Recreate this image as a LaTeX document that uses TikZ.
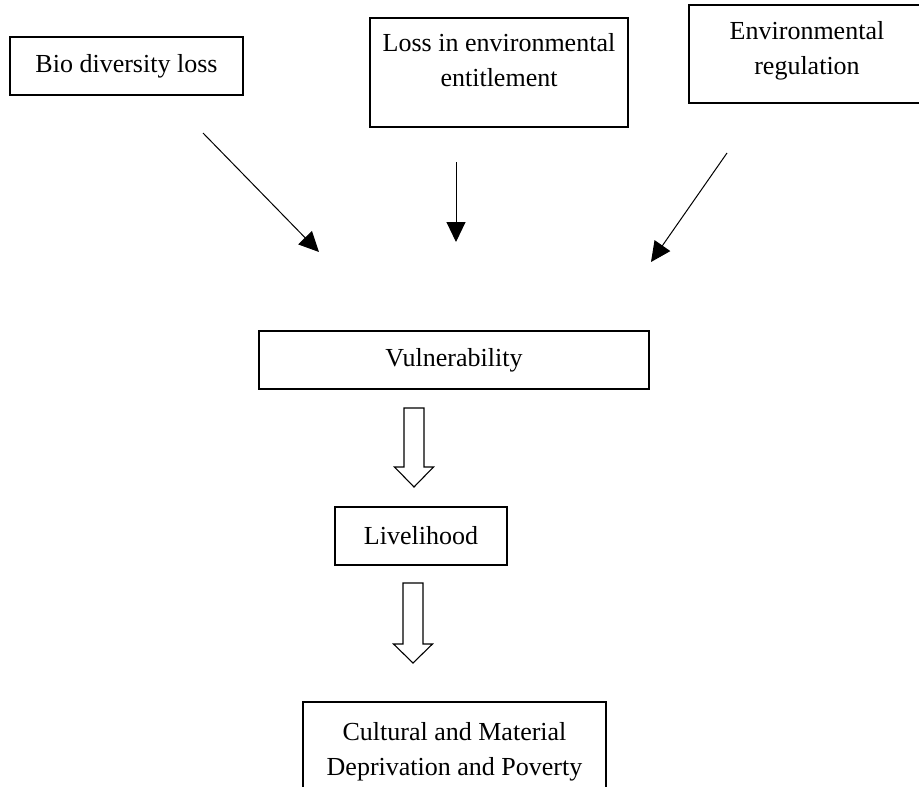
\documentclass[tikz,border=0pt]{standalone}
\usepackage{fontspec}
\setmainfont{Liberation Serif}
\usetikzlibrary{arrows.meta,calc}
\begin{document}
\begin{tikzpicture}[x=1pt,y=-1pt,
  box/.style={draw, line width=1.1pt, inner sep=0pt, rectangle},
  lbl/.style={font=\fontsize{26}{35}\selectfont, align=center, inner sep=0pt},
  thin arrow/.style={line width=1pt, -{Triangle[length=20pt,width=19pt]}},
  hollow/.style={draw, line width=1.1pt, line join=miter}]
\useasboundingbox (0,0) rectangle (919,787);
% top boxes
\node[box, minimum width=233pt, minimum height=58pt] (b1) at (126.5,66) {};
\node[lbl] (t1) at (b1.center) {Bio diversity loss};
\node[box, minimum width=258pt, minimum height=109pt] (b2) at (499,72.5) {};
\node[lbl] (t2) at ($(b2.north)+(0,43)$) {Loss in environmental\\entitlement};
\node[box, minimum width=236pt, minimum height=98pt] (b3) at (807,54) {};
\node[lbl] (t3) at ($(b3.north)+(0,46)$) {Environmental\\regulation};
% thin arrows
\coordinate (a1s) at (203,133); \coordinate (a1e) at (319,252);
\coordinate (a2s) at (456,162); \coordinate (a2e) at (456,242);
\coordinate (a3s) at (727,153); \coordinate (a3e) at (651,262);
\draw[thin arrow] (a1s) -- (a1e);
\draw[thin arrow] (a2s) -- (a2e);
\draw[thin arrow] (a3s) -- (a3e);
% vulnerability
\node[box, minimum width=390pt, minimum height=58pt] (b4) at (454,360) {};
\node[lbl] (t4) at (b4.center) {Vulnerability};
% hollow arrow 1
\coordinate (h1) at (414,408);
\draw[hollow] (h1) ++(-10,0) -- ++(0,59) -- ++(-9.5,0) -- ++(19.5,20) -- ++(19.5,-20) -- ++(-9.5,0) -- ++(0,-59) -- cycle;
% livelihood
\node[box, minimum width=172pt, minimum height=58pt] (b5) at (421,536) {};
\node[lbl] (t5) at (b5.center) {Livelihood};
% hollow arrow 2
\coordinate (h2) at (413,583);
\draw[hollow] (h2) ++(-10,0) -- ++(0,61) -- ++(-9.5,0) -- ++(19.5,19) -- ++(19.5,-19) -- ++(-9.5,0) -- ++(0,-61) -- cycle;
% bottom box (open at bottom)
\coordinate (b6bl) at (303,790); \coordinate (b6tl) at (303,702);
\coordinate (b6tr) at (606,702); \coordinate (b6br) at (606,790);
\draw[line width=1.1pt] (b6bl) -- (b6tl) -- (b6tr) -- (b6br);
\node[lbl] (t6) at (454.5,752) {Cultural and Material\\Deprivation and Poverty};
\end{tikzpicture}
\end{document}
